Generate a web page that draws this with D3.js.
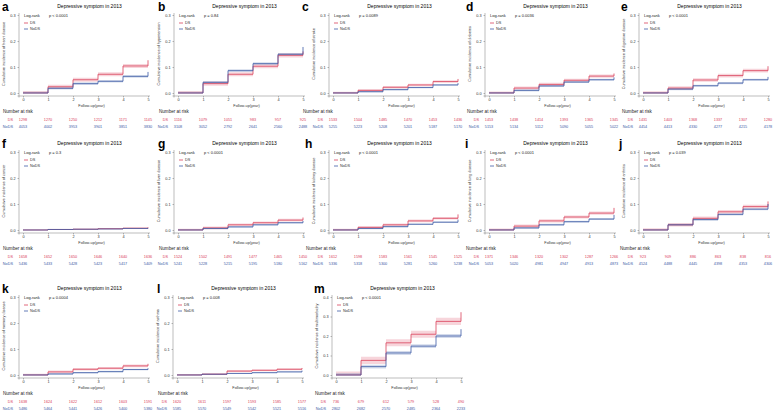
<!DOCTYPE html>
<html>
<head>
<meta charset="utf-8">
<script src="https://cdn.jsdelivr.net/npm/d3@7"></script>
<style>
  html, body { margin: 0; padding: 0; background: #fff; }
  svg { display: block; font-family: "Liberation Sans", Arial, sans-serif; }
</style>
</head>
<body>
<div id="viz"></div>
<script>
const LETTERS = ['a', 'b', 'c', 'd', 'e', 'f', 'g', 'h', 'i', 'j', 'k', 'l', 'm'];
const OUTCOMES = ['heart disease', 'hypertension', 'stroke', 'diabetes', 'digestive disease',
  'cancer', 'liver disease', 'kidney disease', 'lung disease', 'arthritis',
  'memory disease', 'asthma', 'multimorbidity'];
const P_TEXT = ['p < 0.0001', 'p = 0.84', 'p = 0.0089', 'p = 0.0036', 'p < 0.0001',
  'p = 0.3', 'p < 0.0001', 'p < 0.0001', 'p < 0.0001', 'p = 0.039',
  'p = 0.0004', 'p = 0.008', 'p < 0.0001'];
const Y_MAX = [0.3, 0.3, 0.3, 0.3, 0.3, 0.3, 0.3, 0.3, 0.3, 0.3, 0.3, 0.3, 0.4];
const YEARS = [0, 1, 2, 3, 4, 5];

// cumulative incidence at each year (last value = final jump at year 5)
const DS_CUM = [
  [0, 0.024, 0.051, 0.072, 0.104, 0.126],
  [0, 0.036, 0.072, 0.103, 0.145, 0.160],
  [0, 0.010, 0.022, 0.031, 0.044, 0.054],
  [0, 0.019, 0.033, 0.049, 0.065, 0.075],
  [0, 0.019, 0.050, 0.067, 0.086, 0.103],
  [0, 0.002, 0.003, 0.005, 0.007, 0.010],
  [0, 0.008, 0.020, 0.028, 0.038, 0.048],
  [0, 0.010, 0.020, 0.035, 0.045, 0.060],
  [0, 0.015, 0.035, 0.050, 0.065, 0.085],
  [0, 0.020, 0.045, 0.070, 0.090, 0.110],
  [0, 0.012, 0.022, 0.026, 0.035, 0.043],
  [0, 0.003, 0.015, 0.018, 0.022, 0.027],
  [0, 0.075, 0.165, 0.209, 0.275, 0.322],
];
const NODS_CUM = [
  [0, 0.018, 0.036, 0.045, 0.064, 0.081],
  [0, 0.041, 0.086, 0.113, 0.149, 0.177],
  [0, 0.005, 0.013, 0.021, 0.031, 0.038],
  [0, 0.010, 0.027, 0.042, 0.051, 0.060],
  [0, 0.015, 0.028, 0.038, 0.051, 0.062],
  [0, 0.002, 0.003, 0.004, 0.006, 0.008],
  [0, 0.006, 0.012, 0.020, 0.028, 0.035],
  [0, 0.006, 0.013, 0.022, 0.030, 0.040],
  [0, 0.008, 0.020, 0.032, 0.042, 0.058],
  [0, 0.020, 0.040, 0.060, 0.080, 0.100],
  [0, 0.004, 0.009, 0.013, 0.021, 0.026],
  [0, 0.003, 0.006, 0.009, 0.012, 0.017],
  [0, 0.043, 0.113, 0.148, 0.200, 0.235],
];
// half width of the confidence band
const DS_CI = [0.008, 0.008, 0.005, 0.006, 0.007, 0.002, 0.005, 0.005, 0.006, 0.007, 0.005, 0.004, 0.018];
const NODS_CI = [0.005, 0.005, 0.003, 0.004, 0.004, 0.001, 0.003, 0.003, 0.004, 0.004, 0.003, 0.002, 0.010];

const DS_RISK = [
  ['1298', '1270', '1250', '1212', '1171', '1145'],
  ['1116', '1079', '1051', '983', '957', '925'],
  ['1533', '1504', '1485', '1470', '1453', '1436'],
  ['1453', '1438', '1414', '1393', '1365', '1345'],
  ['1431', '1403', '1368', '1337', '1307', '1280'],
  ['1658', '1652', '1650', '1646', '1640', '1636'],
  ['1524', '1502', '1491', '1477', '1465', '1450'],
  ['1612', '1598', '1583', '1561', '1545', '1525'],
  ['1371', '1346', '1320', '1302', '1287', '1266'],
  ['923', '909', '886', '863', '838', '816'],
  ['1638', '1624', '1622', '1612', '1603', '1591'],
  ['1620', '1611', '1597', '1593', '1585', '1577'],
  ['736', '679', '612', '579', '528', '490'],
];
const NODS_RISK = [
  ['4053', '4002', '3953', '3901', '3851', '3830'],
  ['3108', '3052', '2792', '2641', '2560', '2488'],
  ['5255', '5223', '5208', '5201', '5187', '5170'],
  ['5153', '5134', '5112', '5090', '5055', '5022'],
  ['4454', '4413', '4330', '4277', '4215', '4178'],
  ['5436', '5433', '5428', '5423', '5417', '5409'],
  ['5241', '5228', '5215', '5195', '5180', '5162'],
  ['5336', '5318', '5300', '5281', '5260', '5238'],
  ['5053', '5020', '4981', '4947', '4913', '4873'],
  ['4524', '4488', '4445', '4398', '4353', '4306'],
  ['5486', '5464', '5441', '5426', '5400', '5380'],
  ['5585', '5570', '5549', '5542', '5521', '5516'],
  ['2802', '2682', '2570', '2485', '2364', '2233'],
];

const TITLE = 'Depressive symptom in 2013';
const RED = '#d9415a';
const BLUE = '#3d5ca6';
const W = 775, H = 413;
const PW = 125, PH = 78;
// plot origin (year 0, top of y range) and panel letter x
const LAYOUT = [
  { x: 23, y: 15, lx: 2 }, { x: 178, y: 15, lx: 158 }, { x: 333, y: 15, lx: 302 },
  { x: 489, y: 15, lx: 466 }, { x: 643, y: 15, lx: 621 },
  { x: 23, y: 152, lx: 2 }, { x: 178, y: 152, lx: 158 }, { x: 333, y: 152, lx: 305 },
  { x: 489, y: 152, lx: 465 }, { x: 643, y: 152, lx: 619 },
  { x: 23, y: 297, lx: 2 }, { x: 177, y: 297, lx: 157 }, { x: 336, y: 297, lx: 314 },
];

const svg = d3.select('#viz').append('svg').attr('width', W).attr('height', H);

LETTERS.forEach((letter, i) => drawPanel(i));

function drawPanel(i) {
  const pos = LAYOUT[i];
  const x = d3.scaleLinear().domain([0, 5]).range([0, PW]);
  const y = d3.scaleLinear().domain([0, Y_MAX[i]]).range([PH, 0]);
  const g = svg.append('g').attr('transform', `translate(${pos.x},${pos.y})`);

  svg.append('text')
    .attr('x', pos.lx).attr('y', pos.y - 4)
    .attr('font-size', 12).attr('font-weight', 700)
    .text(LETTERS[i]);

  g.append('text')
    .attr('x', PW / 2 + 4).attr('y', -7)
    .attr('text-anchor', 'middle').attr('font-size', 5)
    .text(TITLE);

  // axes
  const yAxis = g.append('g').attr('transform', 'translate(-4,0)')
    .call(d3.axisLeft(y).ticks(Math.round(Y_MAX[i] * 10)).tickFormat(d3.format('.1f')).tickSize(1.5).tickPadding(2));
  const xAxis = g.append('g').attr('transform', `translate(0,${PH + 3})`)
    .call(d3.axisBottom(x).tickValues(YEARS).tickFormat(d3.format('d')).tickSize(1.5).tickPadding(1.2));
  [yAxis, xAxis].forEach((a) => {
    a.selectAll('text').attr('font-size', 3.8).attr('fill', '#333');
    a.selectAll('line').attr('stroke', '#555').attr('stroke-width', 0.4);
    a.select('.domain').attr('stroke', '#555').attr('stroke-width', 0.4);
  });
  yAxis.select('.domain').attr('d', `M-1.5,${PH + 3}H0V${-2}`);
  xAxis.select('.domain').attr('d', `M-4,1.5V0H${PW + 2}`);

  g.append('text')
    .attr('transform', `translate(-18,${PH / 2}) rotate(-90)`)
    .attr('text-anchor', 'middle').attr('font-size', 3.8).attr('fill', '#333')
    .text('Cumulative incidence of ' + OUTCOMES[i]);

  g.append('text')
    .attr('x', PW / 2 + 6).attr('y', PH + 13.8)
    .attr('text-anchor', 'middle').attr('font-size', 3.8).attr('fill', '#333')
    .text('Follow-up(year)');

  // curves
  const series = [
    { cum: DS_CUM[i], ci: DS_CI[i], color: RED },
    { cum: NODS_CUM[i], ci: NODS_CI[i], color: BLUE },
  ];
  const area = d3.area().curve(d3.curveStepAfter).x((d) => x(d.t));
  const line = d3.line().curve(d3.curveStepAfter).x((d) => x(d.t)).y((d) => y(d.v));
  series.forEach((s) => {
    const pts = YEARS.map((t, k) => ({ t, v: s.cum[k] }));
    g.append('path')
      .datum(pts)
      .attr('d', area.y0((d) => y(Math.max(0, d.v - s.ci))).y1((d) => y(d.v + s.ci)))
      .attr('fill', s.color).attr('fill-opacity', 0.22);
  });
  series.forEach((s) => {
    const pts = YEARS.map((t, k) => ({ t, v: s.cum[k] }));
    g.append('path')
      .datum(pts)
      .attr('d', line)
      .attr('fill', 'none').attr('stroke', s.color).attr('stroke-width', 0.8);
  });

  // legend
  g.append('text').attr('x', 1).attr('y', 1.5).attr('font-size', 4).attr('fill', '#222').text('Log-rank');
  g.append('text').attr('x', 26).attr('y', 1.5).attr('font-size', 4).attr('fill', '#222').text(P_TEXT[i]);
  [['DS', RED], ['NoDS', BLUE]].forEach(([lab, col], k) => {
    const ly = 8 + k * 6;
    g.append('line').attr('x1', 1).attr('x2', 5).attr('y1', ly).attr('y2', ly)
      .attr('stroke', col).attr('stroke-width', 0.8);
    g.append('text').attr('x', 7).attr('y', ly + 1.3).attr('font-size', 3.8).attr('fill', '#333').text(lab);
  });

  // risk table
  g.append('text').attr('x', pos.lx - pos.x + 1).attr('y', PH + 19.5)
    .attr('font-size', 4.6).attr('fill', '#222').text('Number at risk');
  [[DS_RISK[i], 'DS', RED, PH + 27.5], [NODS_RISK[i], 'NoDS', BLUE, PH + 35]].forEach(([vals, lab, col, ry]) => {
    g.append('text').attr('x', -10).attr('y', ry).attr('text-anchor', 'end')
      .attr('font-size', 3.8).attr('fill', col).text(lab);
    g.selectAll(null).data(vals).join('text')
      .attr('x', (d, k) => x(YEARS[k]))
      .attr('y', ry)
      .attr('text-anchor', 'middle').attr('font-size', 3.8).attr('fill', col)
      .text((d) => d);
  });
}
</script>
</body>
</html>
